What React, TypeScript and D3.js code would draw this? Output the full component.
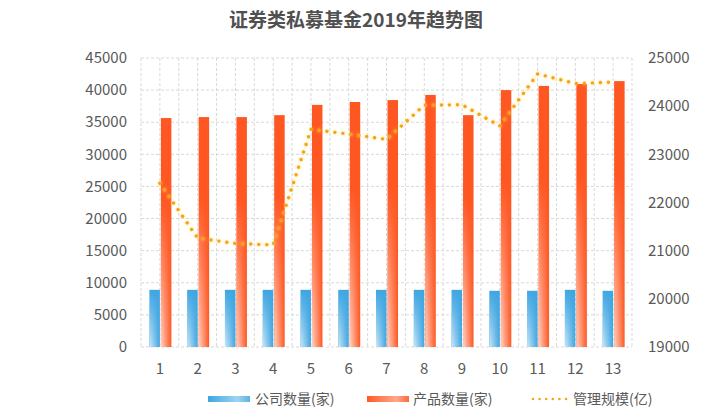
import React from "react";
import * as d3 from "d3";

const categories = ["1","2","3","4","5","6","7","8","9","10","11","12","13"];
const companyCounts = [8900,8900,8900,8900,8900,8900,8900,8900,8900,8750,8750,8900,8750];
const productCounts = [35650,35800,35800,36100,37700,38150,38450,39250,36100,40000,40650,40950,41400];
const aumValues = [22400,21260,21150,21120,23520,23420,23310,24020,24030,23590,24670,24470,24500];
const leftTicks = [0,5000,10000,15000,20000,25000,30000,35000,40000,45000];
const rightTicks = [19000,20000,21000,22000,23000,24000,25000];
const seriesNames = ["公司数量(家)","产品数量(家)","管理规模(亿)"];
const title = "证券类私募基金2019年趋势图";

const W = 705, H = 419;
const L = 141, R = 632, T = 58, B = 347;
const font = "'Noto Sans CJK SC', 'Noto Sans', sans-serif";
const txt = "#595959";
const grid = "#d9d9d9";

export default function App() {
  const x = d3.scaleBand<string>().domain(categories).range([L, R]);
  const yL = d3.scaleLinear().domain([0, 45000]).range([B, T]);
  const yR = d3.scaleLinear().domain([19000, 25000]).range([B, T]);
  const step = x.step();
  const cx = (c: string) => (x(c) as number) + step / 2;
  const bw = 10.5;
  const line = d3.line<number>().x((_, i) => cx(categories[i])).y(d => yR(d));
  const vgrid: number[] = [];
  for (let i = 0; i <= categories.length * 2; i++) vgrid.push(L + (step / 2) * i);

  return (
    <svg width={W} height={H} style={{ position: "absolute", left: 0, top: 0, background: "#fff" }}>
      <defs>
        <linearGradient id="lightH" x1="0" y1="0" x2="1" y2="0">
          <stop offset="0" stopColor="#fff" stopOpacity="0.75" />
          <stop offset="1" stopColor="#fff" stopOpacity="0" />
        </linearGradient>
        <linearGradient id="maskV" x1="0" y1="0" x2="0" y2="1">
          <stop offset="0" stopColor="#000" />
          <stop offset="0.35" stopColor="#000" />
          <stop offset="1" stopColor="#fff" />
        </linearGradient>
        <linearGradient id="maskVblue" x1="0" y1="0" x2="0" y2="1">
          <stop offset="0" stopColor="#000" />
          <stop offset="1" stopColor="#fff" />
        </linearGradient>
        <mask id="mV" maskContentUnits="objectBoundingBox">
          <rect x="0" y="0" width="1" height="1" fill="url(#maskV)" />
        </mask>
        <mask id="mVb" maskContentUnits="objectBoundingBox">
          <rect x="0" y="0" width="1" height="1" fill="url(#maskVblue)" />
        </mask>
        <linearGradient id="legBlue" x1="0" y1="0" x2="1" y2="0">
          <stop offset="0" stopColor="#3fa6e2" />
          <stop offset="0.7" stopColor="#9fd3f3" />
          <stop offset="1" stopColor="#5ab3e8" />
        </linearGradient>
        <linearGradient id="legOrange" x1="0" y1="0" x2="1" y2="0">
          <stop offset="0" stopColor="#ff5a25" />
          <stop offset="0.7" stopColor="#ffa88c" />
          <stop offset="1" stopColor="#ff6a3a" />
        </linearGradient>
        <filter id="glow" x="-20%" y="-20%" width="140%" height="140%">
          <feDropShadow dx="0" dy="0" stdDeviation="1.6" floodColor="#ffd54a" floodOpacity="0.9" />
        </filter>
      </defs>

      <text x={356} y={27} textAnchor="middle" fontFamily={font} fontSize={19} fontWeight={700} fill="#505050">{title}</text>

      {/* grid */}
      {leftTicks.map(t => (
        <line key={"h" + t} x1={L} x2={R} y1={yL(t)} y2={yL(t)} stroke={grid} strokeDasharray="3,2" strokeWidth={1} />
      ))}
      {vgrid.map((v, i) => (
        <line key={"v" + i} x1={v} x2={v} y1={T} y2={B} stroke={grid} strokeDasharray="3,2" strokeWidth={1} />
      ))}

      {/* bars */}
      {categories.map((c, i) => {
        const cc = cx(c);
        const bx = cc - bw;
        const ox = cc + 1;
        const by = yL(companyCounts[i]);
        const oy = yL(productCounts[i]);
        return (
          <g key={"b" + c}>
            <rect x={bx} y={by} width={bw} height={B - by} fill="#3fa6e2" />
            <rect x={bx} y={by} width={bw} height={B - by} fill="url(#lightH)" mask="url(#mVb)" />
            <rect x={ox} y={oy} width={bw} height={B - oy} fill="#ff5722" />
            <rect x={ox} y={oy} width={bw} height={B - oy} fill="url(#lightH)" mask="url(#mV)" />
          </g>
        );
      })}

      {/* line */}
      <path d={line(aumValues) || ""} fill="none" stroke="#f5a31a" strokeWidth={3.4}
        strokeLinecap="round" strokeDasharray="0.01 8" filter="url(#glow)" />

      {/* left axis labels */}
      {leftTicks.map(t => (
        <text key={"l" + t} x={127} y={yL(t)} dy="0.35em" textAnchor="end" fontFamily={font} fontSize={15} fill={txt}>{t}</text>
      ))}
      {rightTicks.map(t => (
        <text key={"r" + t} x={648} y={yR(t)} dy="0.35em" textAnchor="start" fontFamily={font} fontSize={15} fill={txt}>{t}</text>
      ))}
      {categories.map(c => (
        <text key={"x" + c} x={cx(c)} y={369} dy="0.35em" textAnchor="middle" fontFamily={font} fontSize={15} fill={txt}>{c}</text>
      ))}

      {/* legend */}
      <rect x={208} y={396} width={42} height={6} fill="url(#legBlue)" />
      <text x={255} y={399} dy="0.35em" fontFamily={font} fontSize={14} fill={txt}>{seriesNames[0]}</text>
      <rect x={367} y={396} width={42} height={6} fill="url(#legOrange)" />
      <text x={413} y={399} dy="0.35em" fontFamily={font} fontSize={14} fill={txt}>{seriesNames[1]}</text>
      <line x1={533} x2={567} y1={399} y2={399} stroke="#f5a31a" strokeWidth={2.6} strokeLinecap="round" strokeDasharray="0.01 6.6" />
      <text x={573} y={399} dy="0.35em" fontFamily={font} fontSize={14} fill={txt}>{seriesNames[2]}</text>
    </svg>
  );
}
